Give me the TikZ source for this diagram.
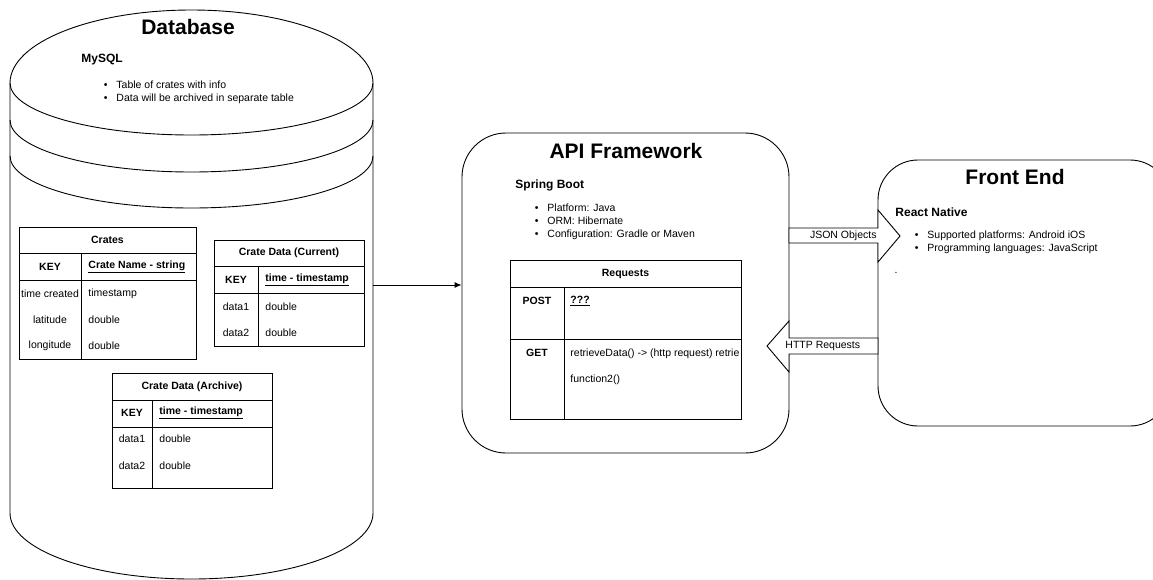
\documentclass[tikz,border=0pt]{standalone}
\usepackage{fontspec}
\setmainfont{Liberation Sans}
\usetikzlibrary{positioning,arrows.meta}
\newcommand{\bul}[1]{\makebox[12.5pt][l]{\textbullet}#1}
\begin{document}
\begin{tikzpicture}[x=1pt,y=-1pt,line width=0.9pt,
    every node/.style={inner sep=0,font=\fontsize{10.5}{13}\selectfont},
    bold/.style={font=\fontsize{10.5}{13}\selectfont\bfseries},
    title/.style={font=\fontsize{21}{25}\selectfont\bfseries},
    sub/.style={anchor=west,font=\fontsize{12}{14}\selectfont\bfseries},
    list/.style={anchor=west,align=left},
    val/.style={anchor=west},
    panel/.style={draw,fill=white},
    blockarr/.style={draw,fill=white,line join=miter}]
    \useasboundingbox (0,0) rectangle (1153,579);

    % database cylinder
    \draw (10,83) arc[start angle=180,end angle=360,x radius=181.5,y radius=73]
        arc[start angle=0,end angle=180,x radius=181.5,y radius=52];
    \draw (10,120) arc[start angle=180,end angle=0,x radius=181.5,y radius=52];
    \draw (10,156) arc[start angle=180,end angle=0,x radius=181.5,y radius=52];
    \draw (10,83) -- (10,513) arc[start angle=180,end angle=0,x radius=181.5,y radius=66] -- (373,83);
    \coordinate (dbout) at (373,285);

    \node[title] (dbtitle) at (188,27) {Database};
    \node[sub] (mysql) at (81,60) {MySQL};
    \node[list] (dblist) at (103.5,92.5) {\bul{Table of crates with info}\\\bul{Data will be archived in separate table}};

    % table: Crates
    \draw (19,227) rectangle (196,359);
    \draw (19,253) -- (196,253) (19,280) -- (196,280) (81,253) -- (81,359);
    \node[bold] (crates) at (107.5,240) {Crates};
    \node[bold] (crkey) at (50,267) {KEY};
    \node[bold,val] (crname) at (88,267) {\underline{Crate Name - string}};
    \foreach \k/\v/\y [count=\i] in {time created/timestamp/294,latitude/double/320,longitude/double/346}
    {
        \node (crk\i) at (50,\y) {\k};
        \node[val] (crv\i) at (88,\y) {\v};
    }

    % table: Crate Data (Current)
    \draw (214,240) rectangle (364,346);
    \draw (214,266) -- (364,266) (214,293) -- (364,293) (258,266) -- (258,346);
    \node[bold] (current) at (289,253) {Crate Data (Current)};
    \node[bold] (curkey) at (236,280) {KEY};
    \node[bold,val] (curtime) at (265,280) {\underline{time - timestamp}};
    \foreach \y [count=\i] in {307,333}
    {
        \node (curk\i) at (236,\y) {data\i};
        \node[val] (curv\i) at (265,\y) {double};
    }

    % table: Crate Data (Archive)
    \draw (112,373) rectangle (272,488);
    \draw (112,400) -- (272,400) (112,427) -- (272,427) (152,400) -- (152,488);
    \node[bold] (archive) at (192,386.5) {Crate Data (Archive)};
    \node[bold] (arckey) at (132,413) {KEY};
    \node[bold,val] (arctime) at (159,413) {\underline{time - timestamp}};
    \foreach \y [count=\i] in {439,466}
    {
        \node (arck\i) at (132,\y) {data\i};
        \node[val] (arcv\i) at (159,\y) {double};
    }

    % api framework
    \node[panel,rounded corners=44pt,minimum width=327pt,minimum height=320pt] (api) at (625.5,293) {};
    \node[title] (apititle) at (626,151) {API Framework};
    \node[sub] (spring) at (515,185) {Spring Boot};
    \node[list] (apilist) at (534.5,222) {\bul{Platform: Java}\\\bul{ORM: Hibernate}\\\bul{Configuration: Gradle or Maven}};

    % table: Requests
    \draw (510,260) rectangle (741,419);
    \draw (510,287) -- (741,287) (510,339) -- (741,339) (564,287) -- (564,419);
    \node[bold] (requests) at (625.5,273.5) {Requests};
    \node[bold] (post) at (537,301) {POST};
    \node[bold,val] (postv) at (570,301) {\underline{???}};
    \node[bold] (get) at (537,353) {GET};
    \begin{scope}
        \clip (564,339) rectangle (740.5,419);
        \node[val] (getv1) at (570,354) {retrieveData() -> (http request) retrie};
    \end{scope}
    \node[val] (getv2) at (570,380) {function2()};

    \draw[-{Latex[length=7pt,width=6pt]}] (dbout) -- (api.west |- dbout);

    % front end
    \node[panel,rounded corners=40pt,minimum width=292pt,minimum height=266pt] (front) at (1024,293) {};
    \node[title] (fronttitle) at (1015,177) {Front End};
    \node[sub] (react) at (895,212) {React Native};
    \node[list] (frontlist) at (914.5,242.5) {\bul{Supported platforms: Android iOS}\\\bul{Programming languages: JavaScript}};
    \node (dot) at (896,273) {.};

    % block arrows
    \draw[blockarr] (789,228) -- (878,228) -- (878,210) -- (900,236) -- (878,262) -- (878,243) -- (789,243) -- cycle;
    \node[anchor=east] (json) at (877,236) {JSON Objects};
    \draw[blockarr] (878,338) -- (789,338) -- (789,321) -- (767,346) -- (789,372) -- (789,354) -- (878,354) -- cycle;
    \node[anchor=west] (http) at (785,346) {HTTP Requests};
\end{tikzpicture}
\end{document}
